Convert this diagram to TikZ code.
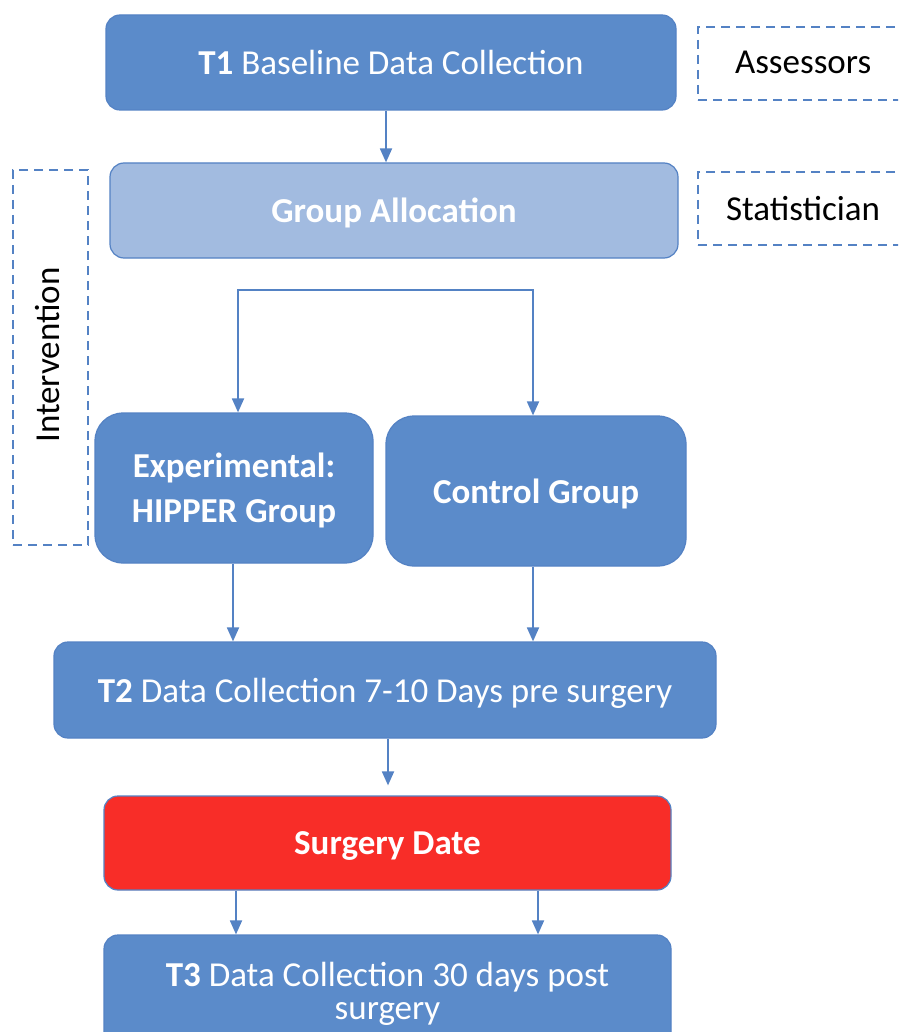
\documentclass[tikz,border=0pt]{standalone}
\usepackage{fontspec}
\setmainfont{Carlito}
\usetikzlibrary{arrows.meta}
\definecolor{mblue}{RGB}{91,139,202}
\definecolor{lblue}{RGB}{162,187,224}
\definecolor{bline}{RGB}{84,130,196}
\definecolor{sred}{RGB}{248,45,40}
\tikzset{
  box/.style={draw=bline, line width=1.2pt, fill=mblue, text=white, rounded corners=14pt, inner sep=0pt, text depth=0pt, font=\fontsize{35}{40}\selectfont, align=center},
  grp/.style={box, rounded corners=28pt, font=\fontsize{35}{45}\selectfont\bfseries},
  dbox/.style={draw=bline, line width=1.6pt, dash pattern=on 9pt off 6pt, inner sep=0pt, font=\fontsize{35}{40}\selectfont},
  arr/.style={draw=bline, line width=1.8pt, -{Triangle[width=12pt,length=14pt]}}
}
\begin{document}
\begin{tikzpicture}[x=1pt,y=-1pt]
\clip (0,0) rectangle (898,1032);
\fill[white] (0,0) rectangle (898,1032);
\node[box, minimum width=570pt, minimum height=95pt] (T1) at (391,62.5) {\textbf{T1} Baseline Data Collection};
\node[box, fill=lblue, minimum width=568pt, minimum height=95pt, font=\fontsize{35}{40}\selectfont\bfseries] (GA) at (394,210.5) {Group Allocation};
\node[dbox, minimum width=212pt, minimum height=73pt, text width=212pt, align=left, text depth=2pt] (AS) at (804,63.5) {\hspace*{37pt}Assessors};
\node[dbox, minimum width=212pt, minimum height=73pt, text width=212pt, align=left] (ST) at (804,208.5) {\hspace*{28pt}Statistician};
\node[dbox, minimum width=75pt, minimum height=375pt] (IV) at (50.5,357.5) {};
\node[rotate=90, font=\fontsize{35}{40}\selectfont] (IVT) at (48,355) {Intervention};
\node[grp, minimum width=278pt, minimum height=150pt] (EX) at (234,488) {Experimental:\\HIPPER Group};
\node[grp, minimum width=300pt, minimum height=150pt] (CT) at (536,491) {Control Group};
\node[box, minimum width=662pt, minimum height=96pt] (T2) at (385,690) {\textbf{T2} Data Collection 7-10 Days pre surgery};
\node[box, fill=sred, minimum width=567pt, minimum height=94pt, font=\fontsize{35}{40}\selectfont\bfseries] (SD) at (387.5,843) {Surgery Date};
\node[box, minimum width=567pt, minimum height=112pt, font=\fontsize{35}{33}\selectfont] (T3) at (387.5,991) {\textbf{T3} Data Collection 30 days post\\surgery};
\coordinate (split) at (393,290);
\draw[arr] (T1.south -| 386,0) -- (386,0 |- GA.north);
\draw[arr] (split) -| (238,0 |- EX.north);
\draw[arr] (split) -| (533,0 |- CT.north);
\draw[arr] (233,0 |- EX.south) -- (233,0 |- T2.north);
\draw[arr] (533,0 |- CT.south) -- (533,0 |- T2.north);
\draw[arr, shorten >=10pt] (388,0 |- T2.south) -- (388,0 |- SD.north);
\draw[arr] (236,0 |- SD.south) -- (236,0 |- T3.north);
\draw[arr] (538,0 |- SD.south) -- (538,0 |- T3.north);
\end{tikzpicture}
\end{document}
